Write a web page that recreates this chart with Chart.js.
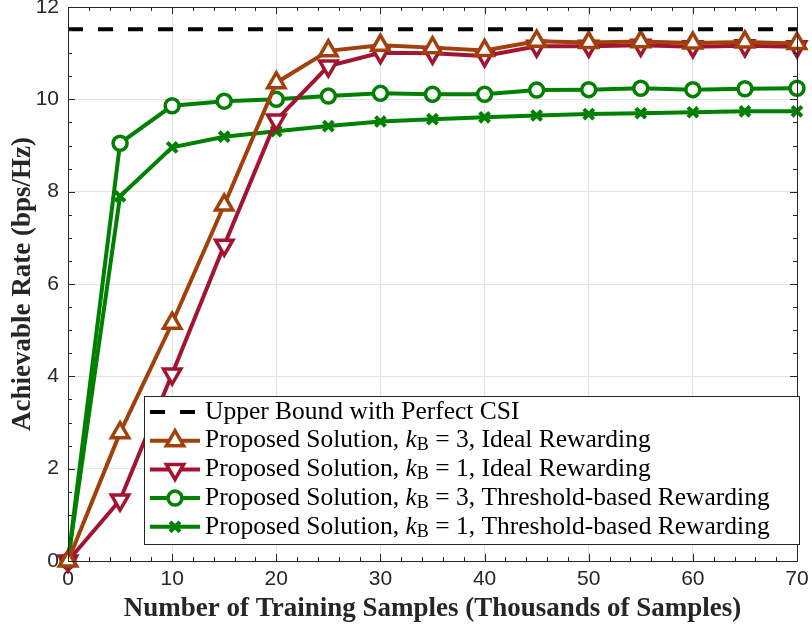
<!DOCTYPE html>
<html>
<head>
<meta charset="utf-8">
<script src="https://cdn.jsdelivr.net/npm/chart.js@4.4.1/dist/chart.umd.min.js"></script>
<style>
  html, body { margin: 0; padding: 0; background: #fff; }
  #wrap { width: 812px; height: 630px; }
</style>
</head>
<body>
<div id="wrap"><canvas id="c" width="812" height="630"></canvas></div>
<script>
// training samples in thousands
const samples = [0, 5, 10, 15, 20, 25, 30, 35, 40, 45, 50, 55, 60, 65, 70];
const upperBound = [11.52, 11.52, 11.52, 11.52, 11.52, 11.52, 11.52, 11.52, 11.52, 11.52, 11.52, 11.52, 11.52, 11.52, 11.52];
const idealK3 = [0, 2.78, 5.15, 7.71, 10.36, 11.05, 11.17, 11.12, 11.06, 11.26, 11.23, 11.25, 11.22, 11.24, 11.21];
const idealK1 = [0, 1.32, 4.05, 6.84, 9.55, 10.72, 11.01, 11.0, 10.94, 11.15, 11.15, 11.17, 11.14, 11.16, 11.14];
const threshK3 = [0, 9.05, 9.86, 9.96, 10.0, 10.07, 10.13, 10.11, 10.11, 10.2, 10.21, 10.24, 10.21, 10.23, 10.24];
const threshK1 = [0, 7.9, 8.96, 9.19, 9.31, 9.42, 9.52, 9.57, 9.61, 9.65, 9.68, 9.7, 9.72, 9.74, 9.74];

const xTicks = [0, 10, 20, 30, 40, 50, 60, 70];
const yTicks = [0, 2, 4, 6, 8, 10, 12];

// legend labels: [before k, after subscript]
const legendText = [
  ['Upper Bound with Perfect CSI'],
  ['Proposed Solution, ', ' = 3, Ideal Rewarding'],
  ['Proposed Solution, ', ' = 1, Ideal Rewarding'],
  ['Proposed Solution, ', ' = 3, Threshold-based Rewarding'],
  ['Proposed Solution, ', ' = 1, Threshold-based Rewarding']
];

const AX = '#262626';
const BROWN = '#a2400c';
const CRIMSON = '#a2142f';
const GREEN = '#008000';
const SERIF = '"Liberation Serif", "DejaVu Serif", serif';
const SANS = '"Liberation Sans", Arial, sans-serif';

const pts = arr => arr.map((v, i) => ({ x: samples[i], y: v }));

// inside tick marks on all four sides, MATLAB-like
const boxTicks = {
  id: 'boxTicks',
  afterDatasetsDraw(chart) {
    const { ctx, chartArea: a, scales: { x, y } } = chart;
    ctx.save();
    ctx.strokeStyle = AX;
    ctx.lineWidth = 1;
    ctx.beginPath();
    for (let v = 0; v <= 70; v += 2) {
      const px = Math.round(x.getPixelForValue(v)) + 0.5;
      const len = v % 10 === 0 ? 7 : 4;
      ctx.moveTo(px, a.bottom); ctx.lineTo(px, a.bottom - len);
      ctx.moveTo(px, a.top); ctx.lineTo(px, a.top + len);
    }
    for (let v = 0; v <= 12; v += 0.5) {
      const py = Math.round(y.getPixelForValue(v)) + 0.5;
      const len = v % 2 === 0 ? 7 : 4;
      ctx.moveTo(a.left, py); ctx.lineTo(a.left + len, py);
      ctx.moveTo(a.right, py); ctx.lineTo(a.right - len, py);
    }
    ctx.stroke();
    ctx.strokeRect(Math.round(a.left) + 0.5, Math.round(a.top) + 0.5,
      Math.round(a.right - a.left), Math.round(a.bottom - a.top));
    ctx.restore();
  }
};

// legend with italic k and subscript B
const boxLegend = {
  id: 'boxLegend',
  afterDraw(chart) {
    const { ctx } = chart;
    const bx = 144.5, by = 396.5, bw = 655, bh = 148;
    ctx.save();
    ctx.fillStyle = '#fff';
    ctx.fillRect(bx, by, bw, bh);
    ctx.strokeStyle = AX;
    ctx.lineWidth = 1;
    ctx.strokeRect(bx, by, bw, bh);
    chart.data.datasets.forEach((ds, i) => {
      const cy = 412 + i * 28.7;
      ctx.strokeStyle = ds.borderColor;
      ctx.lineWidth = ds.borderWidth;
      ctx.setLineDash(ds.borderDash || []);
      ctx.beginPath();
      ctx.moveTo(150, cy); ctx.lineTo(200, cy);
      ctx.stroke();
      ctx.setLineDash([]);
      if (ds.pointRadius > 0) {
        ctx.fillStyle = ds.pointBackgroundColor;
        ctx.strokeStyle = ds.borderColor;
        ctx.lineWidth = ds.pointBorderWidth;
        Chart.helpers.drawPoint(ctx, {
          pointStyle: ds.pointStyle, rotation: ds.pointRotation || 0,
          radius: ds.pointRadius, borderWidth: ds.pointBorderWidth
        }, 175, cy);
      }
      ctx.fillStyle = '#000';
      ctx.textBaseline = 'middle';
      const parts = legendText[i];
      let tx = 205;
      ctx.font = '25.5px ' + SERIF;
      ctx.fillText(parts[0], tx, cy);
      if (parts.length > 1) {
        tx += ctx.measureText(parts[0]).width;
        ctx.font = 'italic 25.5px ' + SERIF;
        ctx.fillText('k', tx, cy);
        tx += ctx.measureText('k').width;
        ctx.font = '18px ' + SERIF;
        ctx.fillText('B', tx, cy + 5);
        tx += ctx.measureText('B').width;
        ctx.font = '25.5px ' + SERIF;
        ctx.fillText(parts[1], tx, cy);
      }
    });
    ctx.restore();
  }
};

new Chart(document.getElementById('c'), {
  type: 'line',
  data: {
    datasets: [
      { data: pts(upperBound), borderColor: '#000', borderWidth: 4, borderDash: [15, 15], pointRadius: 0 },
      { data: pts(idealK3), borderColor: BROWN, borderWidth: 4, pointStyle: 'triangle', pointRadius: 10,
        pointBorderWidth: 3.5, pointBackgroundColor: '#fff', clip: false },
      { data: pts(idealK1), borderColor: CRIMSON, borderWidth: 4, pointStyle: 'triangle', pointRotation: 180,
        pointRadius: 10, pointBorderWidth: 3.5, pointBackgroundColor: '#fff', clip: false },
      { data: pts(threshK3), borderColor: GREEN, borderWidth: 4, pointStyle: 'circle', pointRadius: 7,
        pointBorderWidth: 3.5, pointBackgroundColor: '#fff', clip: false },
      { data: pts(threshK1), borderColor: GREEN, borderWidth: 4, pointStyle: 'crossRot', pointRadius: 7,
        pointBorderWidth: 4, pointBackgroundColor: GREEN, clip: false }
    ]
  },
  options: {
    responsive: false,
    animation: false,
    layout: { autoPadding: false, padding: { top: 7, right: 15, left: 0, bottom: 0 } },
    plugins: { legend: { display: false }, tooltip: { enabled: false } },
    elements: { line: { tension: 0 } },
    scales: {
      x: {
        type: 'linear', min: 0, max: 70,
        afterBuildTicks: s => { s.ticks = xTicks.map(v => ({ value: v })); },
        afterFit: s => { s.height = 69; s.paddingLeft = 0; s.paddingRight = 0; },
        grid: { color: '#e3e3e3', drawTicks: false },
        border: { display: false },
        ticks: { color: AX, font: { family: SANS, size: 21 }, padding: 6, maxRotation: 0 },
        title: { display: true, text: 'Number of Training Samples (Thousands of Samples)', color: AX,
          font: { family: SERIF, size: 27, weight: 'bold' }, padding: { top: 0, bottom: 5 } }
      },
      y: {
        min: 0, max: 12,
        afterBuildTicks: s => { s.ticks = yTicks.map(v => ({ value: v })); },
        afterFit: s => { s.width = 68; s.paddingTop = 0; s.paddingBottom = 0; },
        grid: { color: '#e3e3e3', drawTicks: false },
        border: { display: false },
        ticks: { color: AX, font: { family: SANS, size: 21 }, padding: 9 },
        title: { display: true, text: 'Achievable Rate (bps/Hz)', color: AX,
          font: { family: SERIF, size: 27, weight: 'bold' }, padding: { top: 7, bottom: 0 } }
      }
    }
  },
  plugins: [boxTicks, boxLegend]
});
</script>
</body>
</html>
